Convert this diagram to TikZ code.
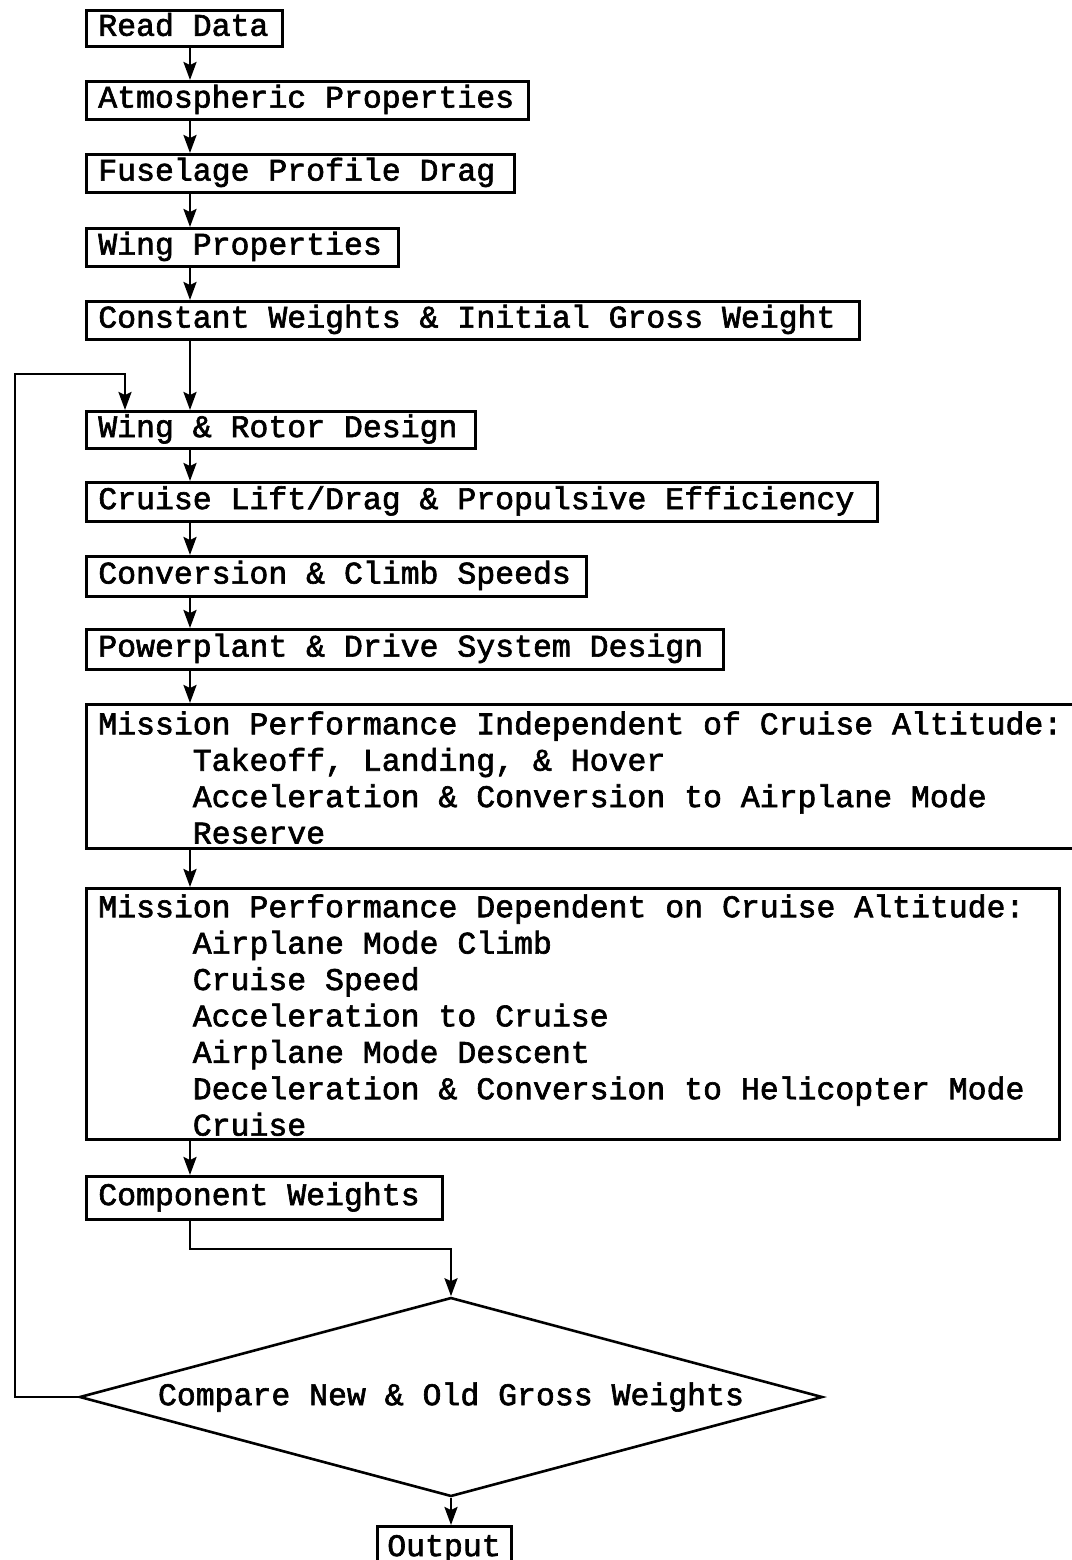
\documentclass[tikz,border=0pt]{standalone}
\usepackage{fontspec}
\setmonofont{Liberation Mono}[BoldFont={Liberation Mono}, BoldFeatures={FakeBold=2}]
\usetikzlibrary{positioning,shapes.geometric,arrows.meta}
\newcommand{\ind}{\hspace*{3em}}

\begin{document}
\begin{tikzpicture}[x=1pt, y=-1pt, line width=2.6pt]
\tikzset{BoxStyle/.style = {draw, rectangle, anchor=north west, inner xsep=12pt, inner ysep=0pt, align=left, font=\ttfamily\bfseries\fontsize{31.5}{36.4}\selectfont, execute at begin node={\spaceskip=0pt\relax\strut}}}
\tikzset{DecisionStyle/.style = {draw, shape=diamond, aspect=3.73, inner sep=0pt, minimum width=743pt, minimum height=199pt, font=\ttfamily\bfseries\fontsize{31.5}{36.4}\selectfont}}
\tikzset{ArrowStyle/.style = {-{Stealth[length=18pt,width=13pt,inset=3pt]}}}

	\useasboundingbox (0,0) rectangle (1071,1560);
	\fill[white] (0,0) rectangle (1071,1560);

	\node[BoxStyle, text width=172pt, minimum height=34pt] (rd) at (85,9) {Read Data};
	\node[BoxStyle, text width=418pt, minimum height=38pt] (atm) at (85,80) {Atmospheric Properties};
	\node[BoxStyle, text width=404pt, minimum height=38pt] (fus) at (85,153) {Fuselage Profile Drag};
	\node[BoxStyle, text width=288pt, minimum height=38pt] (wp) at (85,227) {Wing Properties};
	\node[BoxStyle, text width=749pt, minimum height=38pt] (cw) at (85,300) {Constant Weights \& Initial Gross Weight};

	\node[BoxStyle, text width=365pt, minimum height=37pt] (wr) at (85,410) {Wing \& Rotor Design};
	\node[BoxStyle, text width=767pt, minimum height=39pt] (crl) at (85,481) {Cruise Lift/Drag \& Propulsive Efficiency};
	\node[BoxStyle, text width=476pt, minimum height=40pt] (conv) at (85,555) {Conversion \& Climb Speeds};
	\node[BoxStyle, text width=613pt, minimum height=40pt] (pp) at (85,628) {Powerplant \& Drive System Design};

	\node[BoxStyle, text width=976pt, minimum height=144pt] (mpi) at (85,703) {Mission Performance Independent of Cruise Altitude:\\
		\ind Takeoff, Landing, \& Hover\\
		\ind Acceleration \& Conversion to Airplane Mode\\
		\ind Reserve};
	\node[BoxStyle, text width=949pt, minimum height=251pt] (mpd) at (85,887) {Mission Performance Dependent on Cruise Altitude:\\
		\ind Airplane Mode Climb\\
		\ind Cruise Speed\\
		\ind Acceleration to Cruise\\
		\ind Airplane Mode Descent\\
		\ind Deceleration \& Conversion to Helicopter Mode\\
		\ind Cruise};

	\node[BoxStyle, text width=332pt, minimum height=43pt] (cwt) at (85,1175) {Component Weights};
	\node[DecisionStyle] (cmp) at (451,1397) {Compare New \& Old Gross Weights};
	\node[BoxStyle, inner xsep=10pt, text width=114pt, minimum height=45pt] (out) at (376,1525) {Output};

	\coordinate (spine) at (190,0);
	\coordinate (bend) at (451,1249);
	\coordinate (loopL) at (15,374);
	\coordinate (loopR) at (125,374);

	\draw[ArrowStyle] (rd.south -| spine) -- (atm.north -| spine);
	\draw[ArrowStyle] (atm.south -| spine) -- (fus.north -| spine);
	\draw[ArrowStyle] (fus.south -| spine) -- (wp.north -| spine);
	\draw[ArrowStyle] (wp.south -| spine) -- (cw.north -| spine);
	\draw[ArrowStyle] (cw.south -| spine) -- (wr.north -| spine);
	\draw[ArrowStyle] (wr.south -| spine) -- (crl.north -| spine);
	\draw[ArrowStyle] (crl.south -| spine) -- (conv.north -| spine);
	\draw[ArrowStyle] (conv.south -| spine) -- (pp.north -| spine);
	\draw[ArrowStyle] (pp.south -| spine) -- (mpi.north -| spine);
	\draw[ArrowStyle] (mpi.south -| spine) -- (mpd.north -| spine);
	\draw[ArrowStyle] (mpd.south -| spine) -- (cwt.north -| spine);
	\draw[ArrowStyle] (cwt.south -| spine) |- (bend) -- (cmp.north);
	\draw[ArrowStyle] (cmp.west) -| (loopL) -- (loopR) -- (wr.north -| loopR);
	\draw[ArrowStyle] (cmp.south) -- (out.north -| cmp.south);

\end{tikzpicture}
\end{document}
